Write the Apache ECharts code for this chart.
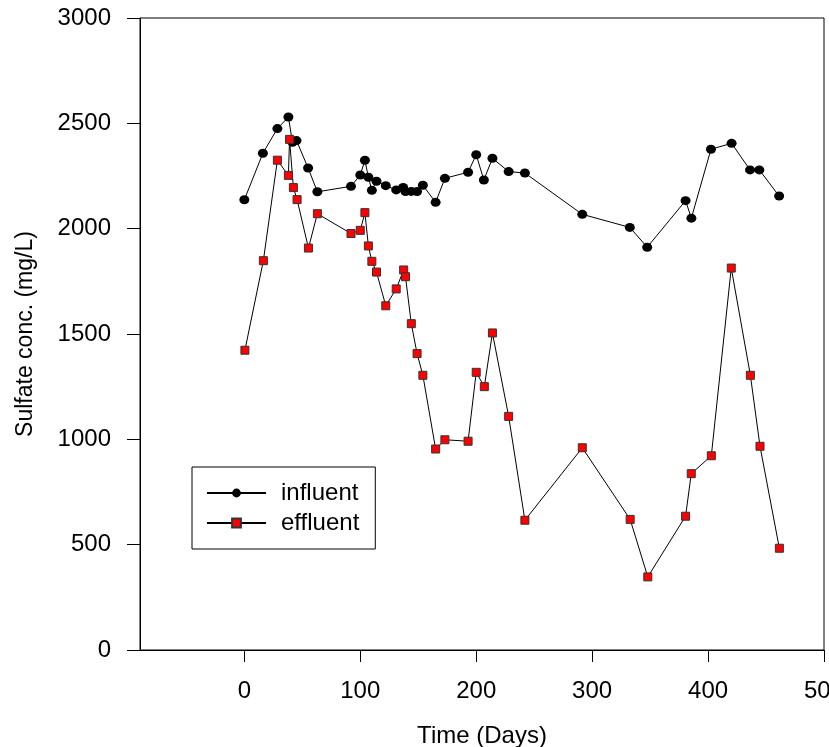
<!DOCTYPE html>
<html>
<head>
<meta charset="utf-8">
<script src="https://cdn.jsdelivr.net/npm/echarts@6/dist/echarts.min.js"></script>
<style>
html,body{margin:0;padding:0;background:#fff;}
#c{width:829px;height:747px;}
</style>
</head>
<body>
<div id="c"></div>
<script>
// Data
var influentDays = [0, 16, 28.5, 38, 41.5, 45, 55, 63, 92, 100, 104, 107, 110, 114, 122, 131, 137, 139, 144, 149, 154, 165, 173, 193, 200, 206.6, 214, 228, 242, 291.5, 332.5, 347.5, 380.6, 385.6, 402.5, 420.3, 436.2, 444.2, 461.3];
var influentValues = [2137, 2358, 2475, 2530, 2410, 2418, 2288, 2175, 2201, 2255, 2325, 2244, 2182, 2225, 2204, 2184, 2196, 2176, 2177, 2176, 2206, 2125, 2239, 2268, 2351, 2231, 2334, 2271, 2264, 2068, 2006, 1912, 2133, 2050, 2377, 2405, 2279, 2279, 2155];
var effluentDays = [0.5, 16.4, 28.5, 38, 39, 42.3, 45.5, 55.3, 63, 92, 100, 104, 107, 110, 114, 122, 131, 137.4, 139, 144, 149, 154, 165, 173, 193, 200, 207, 214, 228, 242, 291.5, 332.8, 348, 380.6, 385.5, 402.8, 420, 436.5, 444.8, 461.5];
var effluentValues = [1423, 1848, 2325, 2253, 2424, 2195, 2138, 1908, 2071, 1977, 1992, 2076, 1918, 1845, 1794, 1634, 1714, 1804, 1772, 1549, 1407, 1304, 954, 998, 991, 1318, 1250, 1505, 1109, 616, 960, 620, 347, 635, 837, 922, 1813, 1304, 967, 483];
var xTicks = [0, 100, 200, 300, 400, 500];
var seriesNames = ['influent', 'effluent'];

function pairs(xs, ys) {
  var out = [];
  for (var i = 0; i < xs.length; i++) out.push([xs[i], ys[i]]);
  return out;
}

var FONT = 'Liberation Sans, Arial, sans-serif';
var chart = echarts.init(document.getElementById('c'), null, {renderer: 'canvas'});
chart.setOption({
  animation: false,
  backgroundColor: '#fff',
  grid: {left: 140, right: 5, top: 18, bottom: 97, show: true, borderColor: '#000', borderWidth: 1, backgroundColor: 'transparent', containLabel: false, outerBoundsMode: 'none'},
  legend: {
    orient: 'vertical',
    left: 192, top: 467,
    data: seriesNames,
    borderColor: '#000', borderWidth: 1,
    padding: [14, 16, 14, 14],
    itemGap: 6,
    itemWidth: 59, itemHeight: 11,
    textStyle: {fontFamily: FONT, fontSize: 24, color: '#000', padding: [0, 0, 0, 10]}
  },
  xAxis: {
    type: 'value', min: -90, max: 500,
    name: 'Time (Days)', nameLocation: 'middle', nameGap: 74,
    nameTextStyle: {fontFamily: FONT, fontSize: 24, color: '#000'},
    axisLine: {show: true, lineStyle: {color: '#000', width: 1}},
    axisTick: {show: true, length: 12, customValues: xTicks, lineStyle: {color: '#000'}},
    axisLabel: {customValues: xTicks, margin: 29, fontFamily: FONT, fontSize: 24, color: '#000', formatter: function (v) { return String(v); }},
    splitLine: {show: false}
  },
  yAxis: {
    type: 'value', min: 0, max: 3000, interval: 500,
    name: 'Sulfate conc. (mg/L)', nameLocation: 'middle', nameGap: 103,
    nameTextStyle: {fontFamily: FONT, fontSize: 23, color: '#000'},
    axisLine: {show: true, onZero: false, lineStyle: {color: '#000', width: 1}},
    axisTick: {show: true, length: 13, lineStyle: {color: '#000'}},
    axisLabel: {margin: 29, fontFamily: FONT, fontSize: 24, color: '#000', formatter: function (v) { return String(v); }},
    splitLine: {show: false}
  },
  series: [
    {
      name: seriesNames[0], type: 'line',
      data: pairs(influentDays, influentValues),
      symbol: 'circle', symbolSize: [10, 9],
      lineStyle: {color: '#000', width: 1},
      itemStyle: {color: '#000'},
      z: 2
    },
    {
      name: seriesNames[1], type: 'line',
      data: pairs(effluentDays, effluentValues),
      symbol: 'rect', symbolSize: 8,
      lineStyle: {color: '#000', width: 1},
      itemStyle: {color: '#ff0000', borderColor: '#333', borderWidth: 1},
      z: 3
    }
  ]
});
</script>
</body>
</html>
